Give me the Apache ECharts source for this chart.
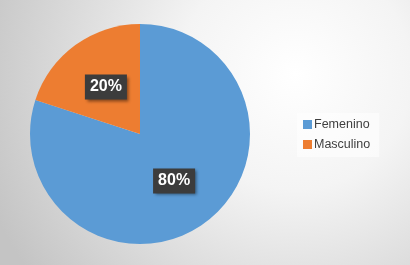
<!DOCTYPE html>
<html><head><meta charset="utf-8">
<script src="https://cdn.jsdelivr.net/npm/echarts@6/dist/echarts.min.js"></script>
<style>html,body{margin:0;padding:0;}#c{width:410px;height:265px;}</style>
</head><body><div id="c"></div>
<script>
const categories = ['Femenino', 'Masculino'];
const values = [80, 20];
const colors = ['#5B9BD5', '#ED7D31'];

const chart = echarts.init(document.getElementById('c'), null, {renderer: 'canvas'});
chart.setOption({
  animation: false,
  backgroundColor: {
    type: 'radial', x: 0.72, y: 0.28, r: 1.25,
    colorStops: [
      {offset: 0, color: '#ffffff'},
      {offset: 0.35, color: '#f4f4f4'},
      {offset: 1, color: '#c4c4c4'}
    ]
  },
  color: colors,
  legend: {
    orient: 'vertical',
    left: 297, top: 113,
    itemWidth: 9, itemHeight: 9, itemGap: 7,
    padding: [5, 9, 6, 6],
    backgroundColor: 'rgba(255,255,255,0.55)',
    icon: 'rect',
    textStyle: {fontFamily: 'Liberation Sans', fontSize: 12.5, color: '#404040', padding: [0, 0, 0, -3]},
    data: categories
  },
  series: [{
    type: 'pie',
    center: [140, 134],
    radius: 110,
    startAngle: 90,
    clockwise: true,
    label: {
      show: true,
      position: 'inside',
      formatter: '{d}%',
      fontFamily: 'Liberation Sans',
      fontWeight: 'bold',
      fontSize: 16,
      color: '#ffffff',
      backgroundColor: '#3c3c3c',
      padding: [5, 5, 4, 5],
      shadowColor: 'rgba(0,0,0,0.45)',
      shadowBlur: 3,
      shadowOffsetX: 2,
      shadowOffsetY: 2
    },
    labelLine: {show: false},
    itemStyle: {borderWidth: 0},
    emphasis: {disabled: true},
    data: categories.map((n, i) => ({name: n, value: values[i]}))
  }]
});
</script></body></html>
